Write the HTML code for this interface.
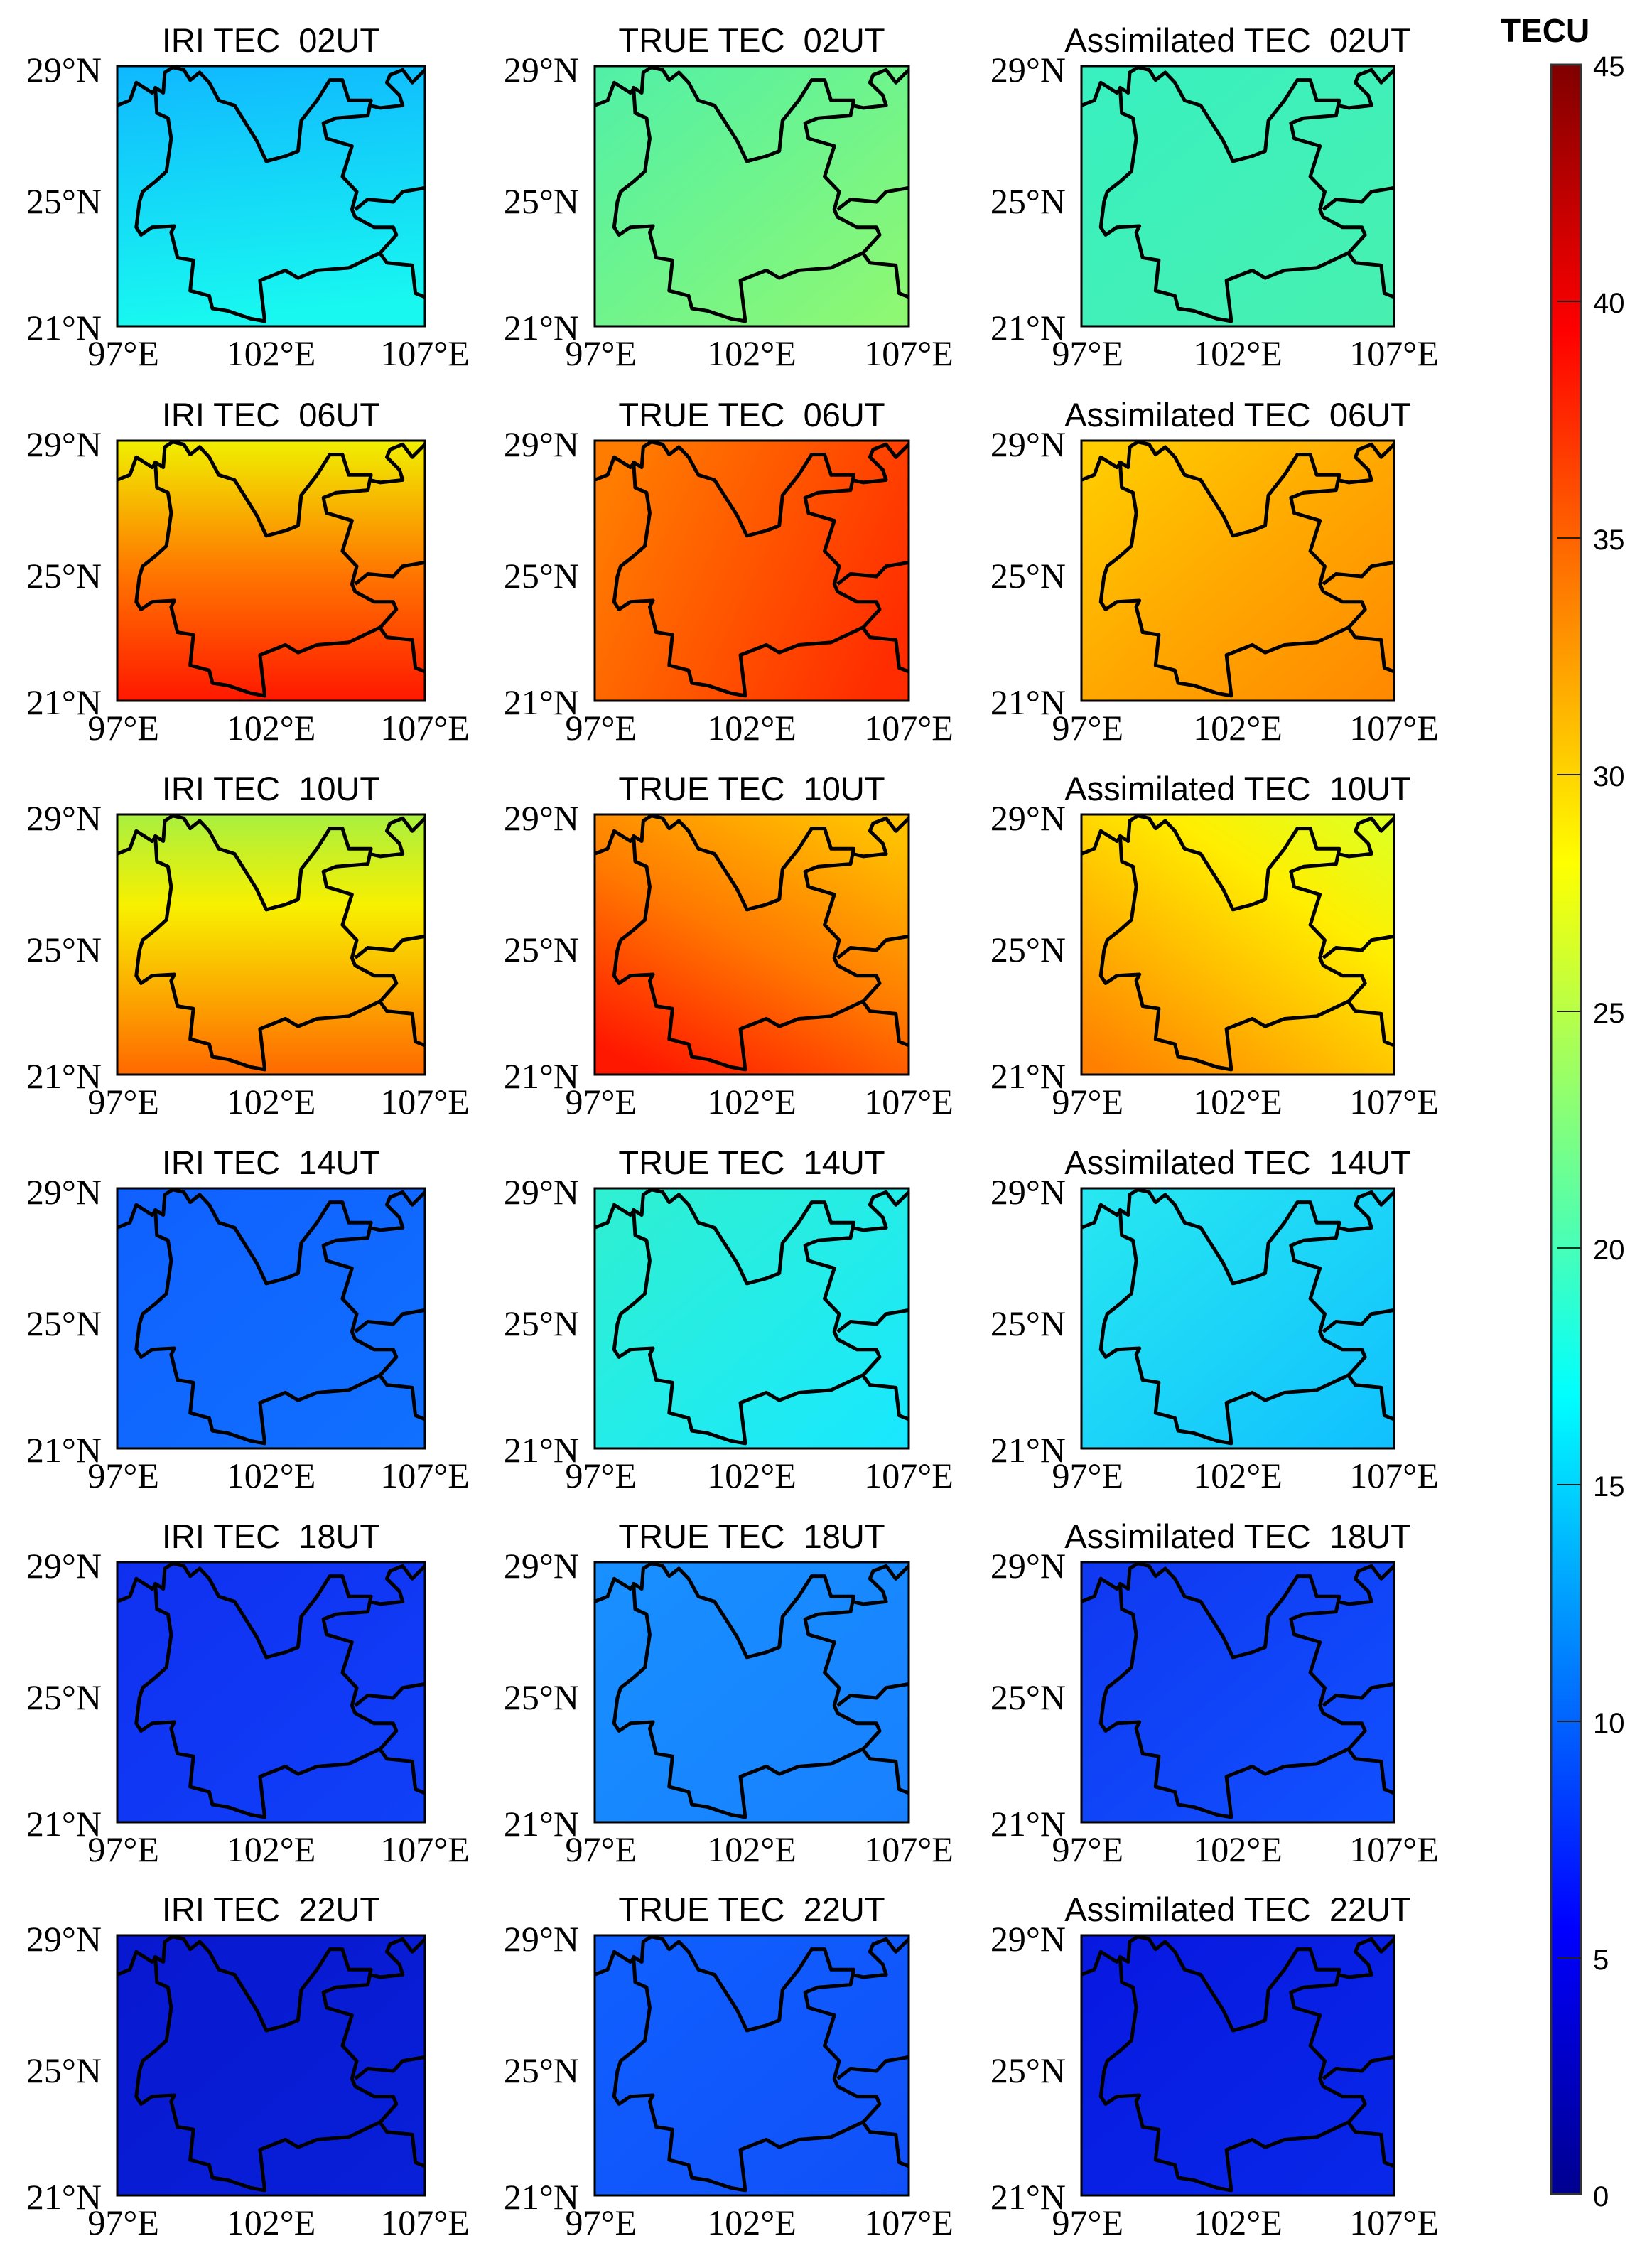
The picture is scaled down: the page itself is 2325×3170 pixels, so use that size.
<!DOCTYPE html>
<html><head><meta charset="utf-8"><style>
body{margin:0;width:2325px;height:3170px;background:#fff;position:relative;overflow:hidden}
.p{position:absolute;height:366px}
.c1{left:165px;width:433px}.c2{left:837px;width:442px}.c3{left:1522px;width:440px}
.r1{top:93px}.r2{top:620px}.r3{top:1146px}.r4{top:1672px}.r5{top:2198px}.r6{top:2723px}
.p svg.m{position:absolute;left:0;top:0;width:100%;height:100%;overflow:visible}
.t{position:absolute;left:-300px;right:-300px;text-align:center;top:-62px;font:47px "Liberation Sans",sans-serif;line-height:52px;white-space:nowrap}
.y,.x{position:absolute;font:50px "Liberation Serif",serif;line-height:50px;white-space:nowrap}
.y{right:calc(100% + 22px);text-align:right}
.x{width:200px;text-align:center;top:379px;margin-left:-100px}
.cb{position:absolute;font:40px "Liberation Sans",sans-serif;left:2242px;line-height:40px}
</style></head><body>
<svg width="0" height="0" style="position:absolute">
<defs>
<path id="b" fill="none" stroke="#000" stroke-width="5" stroke-linejoin="round" vector-effect="non-scaling-stroke" d="M545,270 L520,290 515,370 490,350 495,450 530,470 540,550 525,680 490,720 450,760 440,800 430,900 445,930 480,900 550,895 540,920 560,1020 610,1030 600,1150 660,1170 670,1220 720,1230 790,1260 835,1270 820,1110 900,1070 940,1100 1000,1070 1100,1060 1200,1000 1250,930 1240,900 1180,900 1120,860 1110,830 1125,760 1080,700 1110,580 1030,550 1020,490 1060,470 1160,460 1170,400 1100,400 1080,320 1040,320 1000,400 950,480 940,600 900,620 840,640 810,560 740,420 690,400 660,330 630,290 600,320 580,280 Z M370,420 L410,400 430,330 480,370 490,355 M1120,830 L1160,790 1240,800 1270,760 1340,745 M1200,1005 L1220,1040 1300,1050 1310,1160 1340,1175 M1165,420 L1200,430 1270,420 1260,380 1220,330 1230,300 1270,280 1300,330 1340,280"/>
<linearGradient id="g11" x1="0" y1="0" x2="0.1" y2="1"><stop offset="0" stop-color="#10b8ff"/><stop offset="1" stop-color="#18f8f0"/></linearGradient>
<linearGradient id="g12" x1="0" y1="0" x2="1" y2="1"><stop offset="0" stop-color="#50f0a8"/><stop offset="1" stop-color="#90f870"/></linearGradient>
<linearGradient id="g13" x1="0" y1="0" x2="1" y2="1"><stop offset="0" stop-color="#38f0c0"/><stop offset="1" stop-color="#48f0b0"/></linearGradient>
<linearGradient id="g21" x1="0" y1="0" x2="0" y2="1"><stop offset="0" stop-color="#f0f000"/><stop offset="0.5" stop-color="#ff7800"/><stop offset="1" stop-color="#ff1800"/></linearGradient>
<linearGradient id="g22" x1="0" y1="0.3" x2="1" y2="0.7"><stop offset="0" stop-color="#ff7c00"/><stop offset="1" stop-color="#ff2c00"/></linearGradient>
<linearGradient id="g23" x1="0" y1="0" x2="1" y2="1"><stop offset="0" stop-color="#ffd000"/><stop offset="0.5" stop-color="#ffa800"/><stop offset="1" stop-color="#ff8800"/></linearGradient>
<linearGradient id="g31" x1="0" y1="0" x2="0" y2="1"><stop offset="0" stop-color="#a8f040"/><stop offset="0.35" stop-color="#f8f000"/><stop offset="1" stop-color="#ff6800"/></linearGradient>
<linearGradient id="g32" x1="0.8" y1="0" x2="0.2" y2="1"><stop offset="0" stop-color="#ffc000"/><stop offset="0.5" stop-color="#ff7800"/><stop offset="1" stop-color="#ff1800"/></linearGradient>
<linearGradient id="g33" x1="0.9" y1="0" x2="0.1" y2="1"><stop offset="0" stop-color="#e0ff20"/><stop offset="0.3" stop-color="#ffee00"/><stop offset="1" stop-color="#ff8000"/></linearGradient>
<linearGradient id="g41" x1="0" y1="0" x2="1" y2="1"><stop offset="0" stop-color="#1060ff"/><stop offset="1" stop-color="#1070ff"/></linearGradient>
<linearGradient id="g42" x1="0" y1="0" x2="1" y2="1"><stop offset="0" stop-color="#30f0d0"/><stop offset="1" stop-color="#18e8ff"/></linearGradient>
<linearGradient id="g43" x1="0" y1="0" x2="1" y2="1"><stop offset="0" stop-color="#28e8f0"/><stop offset="1" stop-color="#10c0ff"/></linearGradient>
<linearGradient id="g51" x1="0" y1="0" x2="1" y2="1"><stop offset="0" stop-color="#1030f0"/><stop offset="1" stop-color="#1040f8"/></linearGradient>
<linearGradient id="g52" x1="0" y1="0" x2="1" y2="1"><stop offset="0" stop-color="#1890ff"/><stop offset="1" stop-color="#1880ff"/></linearGradient>
<linearGradient id="g53" x1="0" y1="0" x2="1" y2="1"><stop offset="0" stop-color="#1038f0"/><stop offset="1" stop-color="#1050ff"/></linearGradient>
<linearGradient id="g61" x1="0" y1="0" x2="1" y2="1"><stop offset="0" stop-color="#0818d0"/><stop offset="1" stop-color="#0820d8"/></linearGradient>
<linearGradient id="g62" x1="0" y1="0" x2="1" y2="1"><stop offset="0" stop-color="#1060ff"/><stop offset="1" stop-color="#1050f8"/></linearGradient>
<linearGradient id="g63" x1="0" y1="0" x2="1" y2="1"><stop offset="0" stop-color="#0818e0"/><stop offset="1" stop-color="#0828e8"/></linearGradient>
<linearGradient id="jet" x1="0" y1="1" x2="0" y2="0"><stop offset="0" stop-color="#00008f"/><stop offset="0.125" stop-color="#0000ff"/><stop offset="0.375" stop-color="#00ffff"/><stop offset="0.625" stop-color="#ffff00"/><stop offset="0.875" stop-color="#ff0000"/><stop offset="1" stop-color="#800000"/></linearGradient>
</defs></svg>

<div class="p c1 r1"><div class="t">IRI TEC&nbsp; 02UT</div><svg class="m" viewBox="370 265 970 1025" preserveAspectRatio="none"><rect x="370" y="265" width="970" height="1025" fill="url(#g11)"/><use href="#b"/><rect x="370" y="265" width="970" height="1025" fill="none" stroke="#000" stroke-width="3" vector-effect="non-scaling-stroke"/></svg><div class="y" style="top:-20px">29°N</div><div class="y" style="top:165px">25°N</div><div class="y" style="top:343px">21°N</div><div class="x" style="left:2%">97°E</div><div class="x" style="left:50%">102°E</div><div class="x" style="left:100%">107°E</div></div>
<div class="p c2 r1"><div class="t">TRUE TEC&nbsp; 02UT</div><svg class="m" viewBox="370 265 970 1025" preserveAspectRatio="none"><rect x="370" y="265" width="970" height="1025" fill="url(#g12)"/><use href="#b"/><rect x="370" y="265" width="970" height="1025" fill="none" stroke="#000" stroke-width="3" vector-effect="non-scaling-stroke"/></svg><div class="y" style="top:-20px">29°N</div><div class="y" style="top:165px">25°N</div><div class="y" style="top:343px">21°N</div><div class="x" style="left:2%">97°E</div><div class="x" style="left:50%">102°E</div><div class="x" style="left:100%">107°E</div></div>
<div class="p c3 r1"><div class="t">Assimilated TEC&nbsp; 02UT</div><svg class="m" viewBox="370 265 970 1025" preserveAspectRatio="none"><rect x="370" y="265" width="970" height="1025" fill="url(#g13)"/><use href="#b"/><rect x="370" y="265" width="970" height="1025" fill="none" stroke="#000" stroke-width="3" vector-effect="non-scaling-stroke"/></svg><div class="y" style="top:-20px">29°N</div><div class="y" style="top:165px">25°N</div><div class="y" style="top:343px">21°N</div><div class="x" style="left:2%">97°E</div><div class="x" style="left:50%">102°E</div><div class="x" style="left:100%">107°E</div></div>

<div class="p c1 r2"><div class="t">IRI TEC&nbsp; 06UT</div><svg class="m" viewBox="370 265 970 1025" preserveAspectRatio="none"><rect x="370" y="265" width="970" height="1025" fill="url(#g21)"/><use href="#b"/><rect x="370" y="265" width="970" height="1025" fill="none" stroke="#000" stroke-width="3" vector-effect="non-scaling-stroke"/></svg><div class="y" style="top:-20px">29°N</div><div class="y" style="top:165px">25°N</div><div class="y" style="top:343px">21°N</div><div class="x" style="left:2%">97°E</div><div class="x" style="left:50%">102°E</div><div class="x" style="left:100%">107°E</div></div>
<div class="p c2 r2"><div class="t">TRUE TEC&nbsp; 06UT</div><svg class="m" viewBox="370 265 970 1025" preserveAspectRatio="none"><rect x="370" y="265" width="970" height="1025" fill="url(#g22)"/><use href="#b"/><rect x="370" y="265" width="970" height="1025" fill="none" stroke="#000" stroke-width="3" vector-effect="non-scaling-stroke"/></svg><div class="y" style="top:-20px">29°N</div><div class="y" style="top:165px">25°N</div><div class="y" style="top:343px">21°N</div><div class="x" style="left:2%">97°E</div><div class="x" style="left:50%">102°E</div><div class="x" style="left:100%">107°E</div></div>
<div class="p c3 r2"><div class="t">Assimilated TEC&nbsp; 06UT</div><svg class="m" viewBox="370 265 970 1025" preserveAspectRatio="none"><rect x="370" y="265" width="970" height="1025" fill="url(#g23)"/><use href="#b"/><rect x="370" y="265" width="970" height="1025" fill="none" stroke="#000" stroke-width="3" vector-effect="non-scaling-stroke"/></svg><div class="y" style="top:-20px">29°N</div><div class="y" style="top:165px">25°N</div><div class="y" style="top:343px">21°N</div><div class="x" style="left:2%">97°E</div><div class="x" style="left:50%">102°E</div><div class="x" style="left:100%">107°E</div></div>

<div class="p c1 r3"><div class="t">IRI TEC&nbsp; 10UT</div><svg class="m" viewBox="370 265 970 1025" preserveAspectRatio="none"><rect x="370" y="265" width="970" height="1025" fill="url(#g31)"/><use href="#b"/><rect x="370" y="265" width="970" height="1025" fill="none" stroke="#000" stroke-width="3" vector-effect="non-scaling-stroke"/></svg><div class="y" style="top:-20px">29°N</div><div class="y" style="top:165px">25°N</div><div class="y" style="top:343px">21°N</div><div class="x" style="left:2%">97°E</div><div class="x" style="left:50%">102°E</div><div class="x" style="left:100%">107°E</div></div>
<div class="p c2 r3"><div class="t">TRUE TEC&nbsp; 10UT</div><svg class="m" viewBox="370 265 970 1025" preserveAspectRatio="none"><rect x="370" y="265" width="970" height="1025" fill="url(#g32)"/><use href="#b"/><rect x="370" y="265" width="970" height="1025" fill="none" stroke="#000" stroke-width="3" vector-effect="non-scaling-stroke"/></svg><div class="y" style="top:-20px">29°N</div><div class="y" style="top:165px">25°N</div><div class="y" style="top:343px">21°N</div><div class="x" style="left:2%">97°E</div><div class="x" style="left:50%">102°E</div><div class="x" style="left:100%">107°E</div></div>
<div class="p c3 r3"><div class="t">Assimilated TEC&nbsp; 10UT</div><svg class="m" viewBox="370 265 970 1025" preserveAspectRatio="none"><rect x="370" y="265" width="970" height="1025" fill="url(#g33)"/><use href="#b"/><rect x="370" y="265" width="970" height="1025" fill="none" stroke="#000" stroke-width="3" vector-effect="non-scaling-stroke"/></svg><div class="y" style="top:-20px">29°N</div><div class="y" style="top:165px">25°N</div><div class="y" style="top:343px">21°N</div><div class="x" style="left:2%">97°E</div><div class="x" style="left:50%">102°E</div><div class="x" style="left:100%">107°E</div></div>

<div class="p c1 r4"><div class="t">IRI TEC&nbsp; 14UT</div><svg class="m" viewBox="370 265 970 1025" preserveAspectRatio="none"><rect x="370" y="265" width="970" height="1025" fill="url(#g41)"/><use href="#b"/><rect x="370" y="265" width="970" height="1025" fill="none" stroke="#000" stroke-width="3" vector-effect="non-scaling-stroke"/></svg><div class="y" style="top:-20px">29°N</div><div class="y" style="top:165px">25°N</div><div class="y" style="top:343px">21°N</div><div class="x" style="left:2%">97°E</div><div class="x" style="left:50%">102°E</div><div class="x" style="left:100%">107°E</div></div>
<div class="p c2 r4"><div class="t">TRUE TEC&nbsp; 14UT</div><svg class="m" viewBox="370 265 970 1025" preserveAspectRatio="none"><rect x="370" y="265" width="970" height="1025" fill="url(#g42)"/><use href="#b"/><rect x="370" y="265" width="970" height="1025" fill="none" stroke="#000" stroke-width="3" vector-effect="non-scaling-stroke"/></svg><div class="y" style="top:-20px">29°N</div><div class="y" style="top:165px">25°N</div><div class="y" style="top:343px">21°N</div><div class="x" style="left:2%">97°E</div><div class="x" style="left:50%">102°E</div><div class="x" style="left:100%">107°E</div></div>
<div class="p c3 r4"><div class="t">Assimilated TEC&nbsp; 14UT</div><svg class="m" viewBox="370 265 970 1025" preserveAspectRatio="none"><rect x="370" y="265" width="970" height="1025" fill="url(#g43)"/><use href="#b"/><rect x="370" y="265" width="970" height="1025" fill="none" stroke="#000" stroke-width="3" vector-effect="non-scaling-stroke"/></svg><div class="y" style="top:-20px">29°N</div><div class="y" style="top:165px">25°N</div><div class="y" style="top:343px">21°N</div><div class="x" style="left:2%">97°E</div><div class="x" style="left:50%">102°E</div><div class="x" style="left:100%">107°E</div></div>

<div class="p c1 r5"><div class="t">IRI TEC&nbsp; 18UT</div><svg class="m" viewBox="370 265 970 1025" preserveAspectRatio="none"><rect x="370" y="265" width="970" height="1025" fill="url(#g51)"/><use href="#b"/><rect x="370" y="265" width="970" height="1025" fill="none" stroke="#000" stroke-width="3" vector-effect="non-scaling-stroke"/></svg><div class="y" style="top:-20px">29°N</div><div class="y" style="top:165px">25°N</div><div class="y" style="top:343px">21°N</div><div class="x" style="left:2%">97°E</div><div class="x" style="left:50%">102°E</div><div class="x" style="left:100%">107°E</div></div>
<div class="p c2 r5"><div class="t">TRUE TEC&nbsp; 18UT</div><svg class="m" viewBox="370 265 970 1025" preserveAspectRatio="none"><rect x="370" y="265" width="970" height="1025" fill="url(#g52)"/><use href="#b"/><rect x="370" y="265" width="970" height="1025" fill="none" stroke="#000" stroke-width="3" vector-effect="non-scaling-stroke"/></svg><div class="y" style="top:-20px">29°N</div><div class="y" style="top:165px">25°N</div><div class="y" style="top:343px">21°N</div><div class="x" style="left:2%">97°E</div><div class="x" style="left:50%">102°E</div><div class="x" style="left:100%">107°E</div></div>
<div class="p c3 r5"><div class="t">Assimilated TEC&nbsp; 18UT</div><svg class="m" viewBox="370 265 970 1025" preserveAspectRatio="none"><rect x="370" y="265" width="970" height="1025" fill="url(#g53)"/><use href="#b"/><rect x="370" y="265" width="970" height="1025" fill="none" stroke="#000" stroke-width="3" vector-effect="non-scaling-stroke"/></svg><div class="y" style="top:-20px">29°N</div><div class="y" style="top:165px">25°N</div><div class="y" style="top:343px">21°N</div><div class="x" style="left:2%">97°E</div><div class="x" style="left:50%">102°E</div><div class="x" style="left:100%">107°E</div></div>

<div class="p c1 r6"><div class="t">IRI TEC&nbsp; 22UT</div><svg class="m" viewBox="370 265 970 1025" preserveAspectRatio="none"><rect x="370" y="265" width="970" height="1025" fill="url(#g61)"/><use href="#b"/><rect x="370" y="265" width="970" height="1025" fill="none" stroke="#000" stroke-width="3" vector-effect="non-scaling-stroke"/></svg><div class="y" style="top:-20px">29°N</div><div class="y" style="top:165px">25°N</div><div class="y" style="top:343px">21°N</div><div class="x" style="left:2%">97°E</div><div class="x" style="left:50%">102°E</div><div class="x" style="left:100%">107°E</div></div>
<div class="p c2 r6"><div class="t">TRUE TEC&nbsp; 22UT</div><svg class="m" viewBox="370 265 970 1025" preserveAspectRatio="none"><rect x="370" y="265" width="970" height="1025" fill="url(#g62)"/><use href="#b"/><rect x="370" y="265" width="970" height="1025" fill="none" stroke="#000" stroke-width="3" vector-effect="non-scaling-stroke"/></svg><div class="y" style="top:-20px">29°N</div><div class="y" style="top:165px">25°N</div><div class="y" style="top:343px">21°N</div><div class="x" style="left:2%">97°E</div><div class="x" style="left:50%">102°E</div><div class="x" style="left:100%">107°E</div></div>
<div class="p c3 r6"><div class="t">Assimilated TEC&nbsp; 22UT</div><svg class="m" viewBox="370 265 970 1025" preserveAspectRatio="none"><rect x="370" y="265" width="970" height="1025" fill="url(#g63)"/><use href="#b"/><rect x="370" y="265" width="970" height="1025" fill="none" stroke="#000" stroke-width="3" vector-effect="non-scaling-stroke"/></svg><div class="y" style="top:-20px">29°N</div><div class="y" style="top:165px">25°N</div><div class="y" style="top:343px">21°N</div><div class="x" style="left:2%">97°E</div><div class="x" style="left:50%">102°E</div><div class="x" style="left:100%">107°E</div></div>

<div style="position:absolute;left:2112px;top:20px;font:bold 46px 'Liberation Sans',sans-serif;line-height:46px">TECU</div>
<svg style="position:absolute;left:2180px;top:88px" width="50" height="3004">
<rect x="3" y="3" width="42" height="2996" fill="url(#jet)" stroke="#333" stroke-width="3"/>
<g stroke="#222" stroke-width="2"><line x1="12" x2="45" y1="336" y2="336"/><line x1="12" x2="45" y1="669" y2="669"/><line x1="12" x2="45" y1="1002" y2="1002"/><line x1="12" x2="45" y1="1335" y2="1335"/><line x1="12" x2="45" y1="1668" y2="1668"/><line x1="12" x2="45" y1="2001" y2="2001"/><line x1="12" x2="45" y1="2334" y2="2334"/><line x1="12" x2="45" y1="2667" y2="2667"/></g>
</svg>
<div class="cb" style="top:74px">45</div>
<div class="cb" style="top:407px">40</div>
<div class="cb" style="top:740px">35</div>
<div class="cb" style="top:1073px">30</div>
<div class="cb" style="top:1406px">25</div>
<div class="cb" style="top:1739px">20</div>
<div class="cb" style="top:2072px">15</div>
<div class="cb" style="top:2405px">10</div>
<div class="cb" style="top:2738px">5</div>
<div class="cb" style="top:3071px">0</div>
</body></html>
